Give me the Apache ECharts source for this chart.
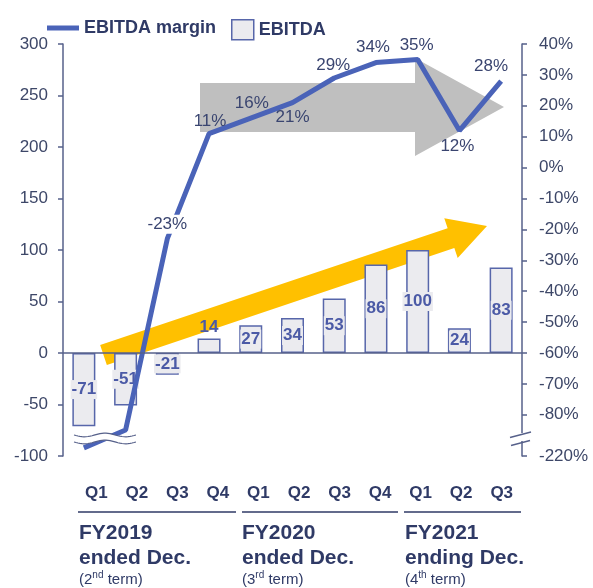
<!DOCTYPE html>
<html>
<head>
<meta charset="utf-8">
<script src="https://cdn.jsdelivr.net/npm/echarts@6/dist/echarts.min.js"></script>
<style>
  html, body { margin: 0; padding: 0; background: #ffffff; }
  #chart { width: 593px; height: 588px; }
</style>
</head>
<body>
<div id="chart"></div>
<script>
// ---- data ----
const quarters = ['Q1', 'Q2', 'Q3', 'Q4', 'Q1', 'Q2', 'Q3', 'Q4', 'Q1', 'Q2', 'Q3'];
const ebitda = [-71, -51, -21, 14, 27, 34, 53, 86, 100, 24, 83];
// EBITDA margin (%) as drawn; the first two points sit below the axis break
const ebitdaMargin = [-90.7, -84.9, -23, 11, 16, 21, 29, 34, 35, 12, 28];
const marginLabels = ['', '', '-23%', '11%', '16%', '21%', '29%', '34%', '35%', '12%', '28%'];
const leftTicks = { min: -100, max: 300, interval: 50 };
const rightTickValues = [40, 30, 20, 10, 0, -10, -20, -30, -40, -50, -60, -70, -80];
const rightBreakLabel = '-220%';
const fiscalYears = ['FY2019', 'FY2020', 'FY2021'];
const fiscalEnds = ['ended Dec.', 'ended Dec.', 'ending Dec.'];
const termNums = ['2', '3', '4'];
const termSups = ['nd', 'rd', 'th'];

// ---- styles / layout ----
const FONT = '"Liberation Sans", Arial, sans-serif';
const NAVY = '#2f3a66';
const AXIS = '#56608a';
const LINE_BLUE = '#4a63b8';
const BAR_FILL = '#ebebef';
const BAR_EDGE = '#5766aa';
const LBL_BLUE = '#4b5aa6';
const GL = 63, GR = 522, GT = 44, GB = 456;
const W = 593, H = 588;
const rightMin = (leftTicks.min) / 3 - 60;   // right axis aligned: 0 -> -60%, 300 -> 40%
const rightMax = (leftTicks.max) / 3 - 60;

const labelPos = [null, null, 'top', 'top', 'top', 'bottom', 'top', 'top', 'top', 'bottom', 'top'];
const labelOffset = [null, null, [0, 0], [1, 0], [1, 0], [0, 0], [-1, 0], [-3, 0], [-1, 0], [-2, 0], [-10, 0]];
const labelDist = [0, 0, 5, 4, 6, 6, 4, 7, 6, 7, 6];

const lineData = ebitdaMargin.map((v, i) => {
  const item = { value: v };
  if (!marginLabels[i]) {
    item.label = { show: false };
  } else {
    item.label = {
      show: true, position: labelPos[i], offset: labelOffset[i], distance: labelDist[i],
      formatter: marginLabels[i]
    };
    if (i === 2) {
      item.label.backgroundColor = '#ffffff';
      item.label.padding = [1, 1];
    }
  }
  return item;
});

const barData = ebitda.map((v, i) => {
  const item = { value: v };
  if (i === 3) {
    item.label = { position: 'top', distance: 2, backgroundColor: 'transparent' };
  }
  return item;
});

// ---- decorations ----
const graphics = [];
// gray arrow
graphics.push({
  type: 'polygon', z: 1, silent: true,
  shape: { points: [[200, 83], [415, 83], [415, 58], [504, 107], [415, 156], [415, 132], [200, 132]] },
  style: { fill: '#bfbfbf' }
});
// yellow arrow
(function () {
  const tail = [103.5, 355], tip = [487, 226];
  const dx = tip[0] - tail[0], dy = tip[1] - tail[1];
  const len = Math.hypot(dx, dy);
  const ux = dx / len, uy = dy / len;
  const px = -uy, py = ux;
  const hw = 10.5, hh = 21, headLen = 38;
  const bx = tip[0] - ux * headLen, by = tip[1] - uy * headLen;
  const pts = [
    [tail[0] - px * hw, tail[1] - py * hw],
    [bx - px * hw, by - py * hw],
    [bx - px * hh, by - py * hh],
    tip,
    [bx + px * hh, by + py * hh],
    [bx + px * hw, by + py * hw],
    [tail[0] + px * hw, tail[1] + py * hw]
  ];
  graphics.push({ type: 'polygon', z: 1, silent: true, shape: { points: pts }, style: { fill: '#ffc000' } });
})();
// wavy break across first bars
(function () {
  const up = [], lo = [];
  for (let x = 74; x <= 136; x += 2) {
    const s = Math.sin((x - 74) / 62 * Math.PI * 3);
    up.push([x, 435 + 1.8 * s]);
    lo.push([x, 442 + 1.8 * s]);
  }
  graphics.push({ type: 'polygon', z: 50, silent: true, shape: { points: up.concat(lo.slice().reverse()) }, style: { fill: '#ffffff' } });
  graphics.push({ type: 'polyline', z: 51, silent: true, shape: { points: up }, style: { stroke: AXIS, lineWidth: 1.2, fill: null } });
  graphics.push({ type: 'polyline', z: 51, silent: true, shape: { points: lo }, style: { stroke: AXIS, lineWidth: 1.2, fill: null } });
})();
// right-axis break
graphics.push({ type: 'rect', z: 50, silent: true, shape: { x: 517, y: 433, width: 10, height: 8 }, style: { fill: '#ffffff' } });
graphics.push({ type: 'line', z: 51, silent: true, shape: { x1: 510, y1: 437.5, x2: 531, y2: 432 }, style: { stroke: AXIS, lineWidth: 1.3 } });
graphics.push({ type: 'line', z: 51, silent: true, shape: { x1: 511, y1: 445.5, x2: 530, y2: 440.5 }, style: { stroke: AXIS, lineWidth: 1.3 } });

// group separators and fiscal-year text
const groupSpans = [[78, 236], [242, 398], [404, 521]];
const groupTextX = [79, 242, 405];
groupSpans.forEach((s, i) => {
  graphics.push({ type: 'line', z: 5, silent: true, shape: { x1: s[0], y1: 512, x2: s[1], y2: 512 }, style: { stroke: NAVY, lineWidth: 1.5 } });
  graphics.push({ type: 'text', z: 5, silent: true, x: groupTextX[i], y: 533,
    style: { text: fiscalYears[i], fill: NAVY, font: 'bold 21px ' + FONT, verticalAlign: 'middle', align: 'left' } });
  graphics.push({ type: 'text', z: 5, silent: true, x: groupTextX[i], y: 558,
    style: { text: fiscalEnds[i], fill: NAVY, font: 'bold 21px ' + FONT, verticalAlign: 'middle', align: 'left' } });
  graphics.push({ type: 'text', z: 5, silent: true, x: groupTextX[i], y: 570,
    style: {
      text: '{a|(' + termNums[i] + '}{s|' + termSups[i] + '}{a| term)}',
      verticalAlign: 'top', align: 'left',
      rich: {
        a: { fontSize: 15, fontFamily: FONT, fill: NAVY, lineHeight: 17, verticalAlign: 'bottom' },
        s: { fontSize: 10, fontFamily: FONT, fill: NAVY, lineHeight: 17, verticalAlign: 'top' }
      }
    } });
});

const option = {
  animation: false,
  backgroundColor: '#ffffff',
  textStyle: { fontFamily: FONT },
  legend: [
    {
      data: [{ name: 'EBITDA margin', icon: 'rect' }], left: 42, top: 14, itemWidth: 32, itemHeight: 5, itemGap: 6,
      textStyle: { fontFamily: FONT, fontSize: 18, fontWeight: 'bold', color: NAVY }
    },
    {
      data: [{ name: 'EBITDA', icon: 'rect' }], left: 226, top: 14, itemWidth: 22, itemHeight: 20,
      itemStyle: { color: BAR_FILL, borderColor: BAR_EDGE, borderWidth: 1.5 },
      textStyle: { fontFamily: FONT, fontSize: 18, fontWeight: 'bold', color: NAVY }
    }
  ],
  grid: [
    { left: GL, right: W - GR, top: GT, bottom: H - GB, containLabel: false },
    { left: 76, right: W - GR, top: GT, bottom: H - GB, containLabel: false }
  ],
  xAxis: [
    {
      type: 'category', gridIndex: 0, data: quarters,
      axisLine: { show: false }, axisTick: { show: false }, axisLabel: { show: false }
    },
    {
      type: 'category', gridIndex: 1, data: quarters, position: 'bottom',
      axisLine: { show: false }, axisTick: { show: false },
      axisLabel: { show: true, interval: 0, margin: 29, fontFamily: FONT, fontSize: 17, fontWeight: 'bold', color: NAVY }
    }
  ],
  yAxis: [
    {
      type: 'value', gridIndex: 0, min: leftTicks.min, max: leftTicks.max, interval: leftTicks.interval,
      axisLine: { show: true, lineStyle: { color: AXIS, width: 1.5 } },
      axisTick: { show: true, length: 5, lineStyle: { color: AXIS, width: 1.5 } },
      splitLine: { show: false },
      axisLabel: { margin: 15, fontFamily: FONT, fontSize: 17, color: '#3d4768' }
    },
    {
      type: 'value', gridIndex: 0, position: 'right', min: rightMin, max: rightMax,
      axisLine: { show: true, lineStyle: { color: AXIS, width: 1.5 } },
      axisTick: { show: true, length: 5, lineStyle: { color: AXIS, width: 1.5 }, customValues: rightTickValues.concat([rightMin]) },
      splitLine: { show: false },
      axisLabel: {
        margin: 17, fontFamily: FONT, fontSize: 17, color: '#3d4768',
        customValues: rightTickValues.concat([rightMin]),
        formatter: v => (v < -90 ? rightBreakLabel : Math.round(v) + '%')
      }
    },
    { type: 'value', gridIndex: 1, show: false }
  ],
  series: [
    {
      name: 'EBITDA', type: 'bar', xAxisIndex: 0, yAxisIndex: 0, data: barData, barWidth: 23, z: 2,
      itemStyle: { color: BAR_FILL, borderColor: BAR_EDGE, borderWidth: 1.5 },
      label: {
        show: true, position: 'inside', fontFamily: FONT, fontSize: 17, fontWeight: 'bold', color: LBL_BLUE,
        backgroundColor: BAR_FILL, padding: [1, 1]
      },
      markLine: {
        silent: true, symbol: 'none', label: { show: false },
        lineStyle: { color: AXIS, width: 1.5, type: 'solid' },
        data: [{ yAxis: 0 }]
      }
    },
    {
      name: 'EBITDA margin', type: 'line', xAxisIndex: 0, yAxisIndex: 1, data: lineData, z: 4,
      symbol: 'circle', symbolSize: 0.01, showSymbol: true,
      lineStyle: { color: LINE_BLUE, width: 5 }, itemStyle: { color: LINE_BLUE },
      label: { show: true, fontFamily: FONT, fontSize: 17, color: '#3a4570' }
    }
  ],
  graphic: graphics
};

const chart = echarts.init(document.getElementById('chart'), null, { renderer: 'canvas' });
chart.setOption(option);
</script>
</body>
</html>
